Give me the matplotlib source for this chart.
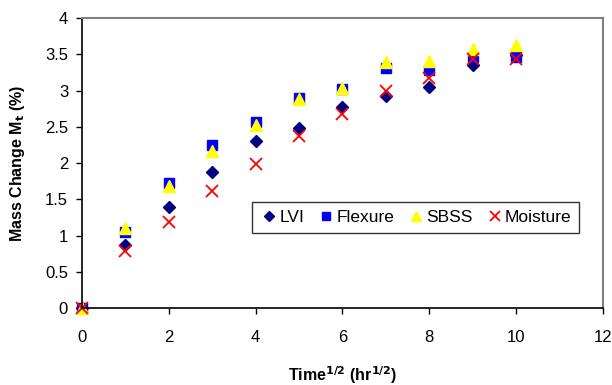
import matplotlib
matplotlib.use("Agg")
import matplotlib.pyplot as plt

plt.rcParams['font.family'] = ['Liberation Sans', 'DejaVu Sans']

time_sqrt = [0, 1, 2, 3, 4, 5, 6, 7, 8, 9, 10]
lvi = [0, 0.87, 1.40, 1.87, 2.31, 2.48, 2.77, 2.92, 3.05, 3.35, 3.49]
flexure = [0, 1.05, 1.72, 2.25, 2.57, 2.90, 3.02, 3.31, 3.29, 3.46, 3.47]
sbss = [0, 1.10, 1.68, 2.17, 2.52, 2.89, 3.03, 3.39, 3.41, 3.58, 3.63]
moisture = [0, 0.79, 1.19, 1.62, 1.99, 2.38, 2.68, 3.00, 3.18, 3.43, 3.44]

fig = plt.figure(figsize=(6.12, 3.85), dpi=100)
ax = fig.add_axes([0.134, 0.2, 0.851, 0.753])

ax.plot(time_sqrt, lvi, 'D', color='#000080', markersize=6, label='LVI', clip_on=False)
ax.plot(time_sqrt, flexure, 's', color='#0000FF', markersize=7, label='Flexure', clip_on=False)
ax.plot(time_sqrt, sbss, '^', color='#FFFF00', markersize=8, label='SBSS', clip_on=False)
ax.plot(time_sqrt, moisture, 'x', color='#FF0000', markersize=8, markeredgewidth=1.3,
        label='Moisture', clip_on=False)

ax.set_xlim(0, 12)
ax.set_ylim(0, 4)
ax.set_xticks(range(0, 13, 2))
ax.set_yticks([0, 0.5, 1, 1.5, 2, 2.5, 3, 3.5, 4])
ax.set_yticklabels(['0', '0.5', '1', '1.5', '2', '2.5', '3', '3.5', '4'])
ax.tick_params(labelsize=12, length=4, width=1, colors='black')
ax.tick_params(axis='x', pad=12)
ax.tick_params(axis='y', pad=6)

for s in ['top', 'right']:
    ax.spines[s].set_color('#808080')
    ax.spines[s].set_linewidth(1.5)
for s in ['left', 'bottom']:
    ax.spines[s].set_color('black')
    ax.spines[s].set_linewidth(1.2)

ax.set_xlabel(r'Time$^{\mathbf{1/2}}$ (hr$^{\mathbf{1/2}}$)', fontsize=11.5, fontweight='bold', labelpad=14)
ax.set_ylabel(r'Mass Change M$_{\mathbf{t}}$ (%)', fontsize=11.5, fontweight='bold', labelpad=13)

leg = ax.legend(loc='upper left', bbox_to_anchor=(0.326, 0.366), ncol=4, fontsize=12.5,
                frameon=True, fancybox=False, handletextpad=0.05, columnspacing=0.7,
                borderpad=0.45, handlelength=1.1, borderaxespad=0, markerscale=0.85)
leg.get_frame().set_edgecolor('black')
leg.get_frame().set_linewidth(1.0)

fig.savefig('out.png', dpi=100)
